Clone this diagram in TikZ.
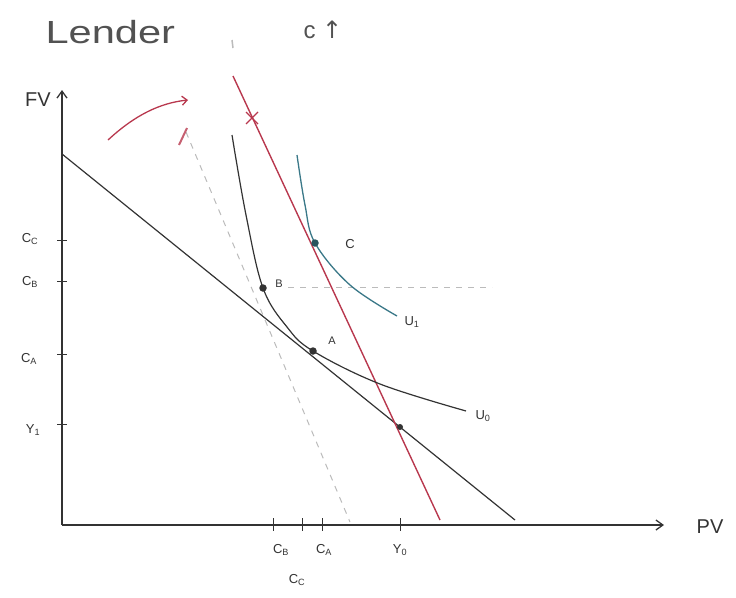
\documentclass[tikz,border=0pt]{standalone}
\usepackage{fontspec}
\setmainfont{Liberation Sans}
\newfontfamily\dejavu{DejaVu Sans}
\usetikzlibrary{arrows.meta,calc}
\definecolor{ink}{HTML}{333333}
\definecolor{redl}{HTML}{B8384E}
\definecolor{bluel}{HTML}{3A7888}
\definecolor{faint}{HTML}{BBBBBB}
\newcommand{\sbs}[1]{\textsubscript{#1}}
\tikzset{
  axis/.style={ink, line width=1.3pt},
  curve/.style={ink, line width=1.2pt},
  tickmark/.style={ink, line width=1pt},
  lbl/.style={ink, font=\fontsize{13}{13}\selectfont, inner sep=1pt},
  dotpt/.style={circle, fill=ink, inner sep=0pt, minimum size=7.5pt},
  guide/.style={faint, line width=1pt, dash pattern=on 6pt off 6pt},
}
\begin{document}
\begin{tikzpicture}[x=1pt,y=-1pt]
\useasboundingbox (0,0) rectangle (736,597);
% titles
\node[ink!85, font=\fontsize{32}{32}\selectfont, anchor=west] (title) at (42,32) {\scalebox{1.3}[1]{Lender}};
\node[ink!85, font=\fontsize{24}{24}\selectfont, anchor=west] (ctitle) at (300,30) {c \dejavu ↑};
\coordinate (m1) at (232,40); \coordinate (m2) at (233,48);
\draw[faint, line width=1.5pt] (m1) -- (m2);
% axes
\coordinate (O) at (62,525);
\coordinate (ytop) at (62,90);
\coordinate (xend) at (664,525);
\draw[axis, -{Straight Barb[length=7pt,width=10pt]}] (O) -- (ytop);
\draw[axis, -{Straight Barb[length=7pt,width=10pt]}] (O) -- (xend);
\node[ink, font=\fontsize{20}{20}\selectfont] (fv) at (38,100) {FV};
\node[ink, font=\fontsize{20}{20}\selectfont] (pv) at (710,527) {PV};
% faint dashed guides
\coordinate (g1) at (186,132); \coordinate (g2) at (350,522);
\draw[guide] (g1) -- (g2);
\coordinate (h1) at (288,287); \coordinate (h2) at (492,287);
\draw[guide] (h1) -- (h2);
% budget line
\coordinate (b1) at (62,154); \coordinate (b2) at (515,520);
\draw[curve] (b1) -- (b2);
% red line
\coordinate (r1) at (233,76); \coordinate (r2) at (440,520);
\draw[redl, line width=1.4pt] (r1) -- (r2);
\coordinate (x0) at (252,118);
\draw[redl, line width=1.3pt] ($(x0)+(-6,-6)$) -- ($(x0)+(6,6)$);
\draw[redl, line width=1.3pt] ($(x0)+(-6,6)$) -- ($(x0)+(6,-6)$);
% red rotation arrow
\coordinate (a1) at (108,140); \coordinate (a2) at (188,100);
\draw[redl, line width=1.3pt, -{Straight Barb[length=5pt,width=9pt]}] (a1) .. controls (135,115) and (160,103) .. (a2);
\coordinate (s1) at (187,128); \coordinate (s2) at (179,145);
\draw[redl!80, line width=2pt] (s1) -- (s2);
% indifference curves
\coordinate (u0a) at (232,135);
\coordinate (u0b) at (246,215);
\coordinate (B) at (263,288);
\coordinate (u0c) at (287,327);
\coordinate (A) at (313,351);
\coordinate (u0d) at (380,384);
\coordinate (u0e) at (466,411);
\draw[curve] plot[smooth, tension=0.6] coordinates {(u0a) (u0b) (B) (u0c) (A) (u0d) (u0e)};
\coordinate (u1a) at (297,155);
\coordinate (u1b) at (305,205);
\coordinate (C) at (315,243);
\coordinate (u1c) at (350,285);
\coordinate (u1d) at (397,316);
\draw[bluel, line width=1.3pt] plot[smooth, tension=0.6] coordinates {(u1a) (u1b) (C) (u1c) (u1d)};
% points
\node[dotpt] (pB) at (B) {};
\node[dotpt] (pA) at (A) {};
\node[dotpt, fill=bluel!70!black] (pC) at (C) {};
\node[dotpt, minimum size=6pt] (pY) at (400,427) {};
\node[lbl, font=\fontsize{11}{11}\selectfont] (lB) at (279,284) {B};
\node[lbl, font=\fontsize{11}{11}\selectfont] (lA) at (332,341) {A};
\node[lbl] (lC) at (350,244) {C};
\node[lbl] (lU1) at (412,322) {U\sbs{1}};
\node[lbl] (lU0) at (483,416) {U\sbs{0}};
% y ticks
\foreach \yy/\nm in {240/tC,281/tB,354/tA,424/tY}{
  \coordinate (\nm l) at (57,\yy); \coordinate (\nm r) at (67,\yy);
  \draw[tickmark] (\nm l) -- (\nm r);
}
\node[lbl] (yC) at (30,239) {C\sbs{C}};
\node[lbl] (yB) at (30,282) {C\sbs{B}};
\node[lbl] (yA) at (29,359) {C\sbs{A}};
\node[lbl] (yY) at (33,430) {Y\sbs{1}};
% x ticks
\foreach \xx/\nm in {273/sB,302/sC,322/sA,400/sY}{
  \coordinate (\nm t) at (\xx,518); \coordinate (\nm b) at (\xx,531);
  \draw[tickmark] (\nm t) -- (\nm b);
}
\node[lbl] (xB) at (281,550) {C\sbs{B}};
\node[lbl] (xA) at (324,550) {C\sbs{A}};
\node[lbl] (xY) at (400,550) {Y\sbs{0}};
\node[lbl] (xC) at (297,580) {C\sbs{C}};
\end{tikzpicture}
\end{document}
